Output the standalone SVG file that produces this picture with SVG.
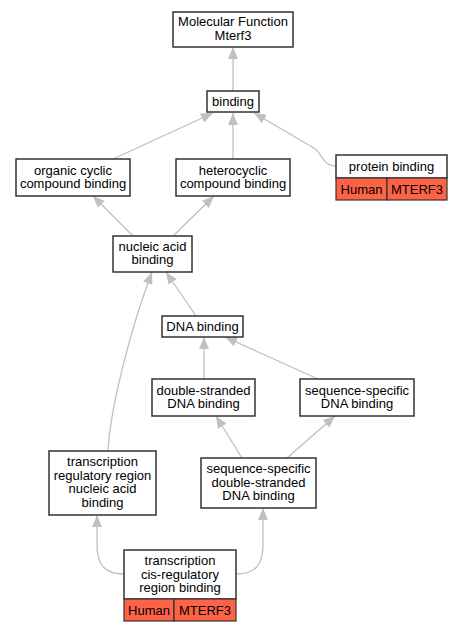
<svg xmlns="http://www.w3.org/2000/svg" width="464" height="632" viewBox="0 0 464 632">
<style>
.box{fill:#fff;stroke:#333;stroke-width:1.5}
.red{fill:#fe6347;stroke:#333;stroke-width:1.2}
text{font-family:"Liberation Sans",Arial,sans-serif;font-size:13px;fill:#000;text-anchor:middle}
.e{fill:none;stroke:#c0c0c0;stroke-width:1.3}
</style>
<defs>
<marker id="ah" viewBox="0 0 12 10" refX="12" refY="5" markerWidth="12" markerHeight="10" markerUnits="userSpaceOnUse" orient="auto">
<path d="M0,0 L12,5 L0,10 Z" fill="#c0c0c0"/>
</marker>
</defs>
<g id="edges">
<path class="e" marker-end="url(#ah)" d="M233,91 L233,47"/>
<path class="e" marker-end="url(#ah)" d="M113,159 L213,113"/>
<path class="e" marker-end="url(#ah)" d="M233,159 L233,113"/>
<path class="e" marker-end="url(#ah)" d="M336,166 C322,166 324,155 314,148 L254,113"/>
<path class="e" marker-end="url(#ah)" d="M133,236 L93,196"/>
<path class="e" marker-end="url(#ah)" d="M173,236 L214,196"/>
<path class="e" marker-end="url(#ah)" d="M196,316 L166,272"/>
<path class="e" marker-end="url(#ah)" d="M108,451 C110,410 130,330 152,272"/>
<path class="e" marker-end="url(#ah)" d="M204,379 L204,337"/>
<path class="e" marker-end="url(#ah)" d="M318,379 L225,337"/>
<path class="e" marker-end="url(#ah)" d="M242,458 L216,416"/>
<path class="e" marker-end="url(#ah)" d="M287,458 L335,416"/>
<path class="e" marker-end="url(#ah)" d="M124,574 C105,574 97,565 97,545 L97,515"/>
<path class="e" marker-end="url(#ah)" d="M236,574 C255,574 263,565 263,545 L263,508"/>
</g>
<g id="n_mf"><rect class="box" x="173" y="12" width="120" height="35"/><text x="233" y="26">Molecular Function</text><text x="233" y="40">Mterf3</text></g>
<g id="n_binding"><rect class="box" x="207" y="91" width="52" height="21"/><text x="233" y="106">binding</text></g>
<g id="n_organic"><rect class="box" x="16" y="159" width="114" height="37"/><text x="73" y="175">organic cyclic</text><text x="73" y="188">compound binding</text></g>
<g id="n_hetero"><rect class="box" x="176" y="159" width="114" height="37"/><text x="233" y="175">heterocyclic</text><text x="233" y="188">compound binding</text></g>
<g id="n_protein"><rect class="box" x="336" y="155" width="111" height="23"/><text x="391.5" y="171">protein binding</text><rect class="red" x="336" y="178" width="51" height="22"/><rect class="red" x="387" y="178" width="60" height="22"/><text x="361.5" y="194">Human</text><text x="417" y="194">MTERF3</text></g>
<g id="n_nucleic"><rect class="box" x="113" y="236" width="79" height="36"/><text x="152.5" y="251">nucleic acid</text><text x="152.5" y="264">binding</text></g>
<g id="n_dna"><rect class="box" x="162" y="316" width="81" height="21"/><text x="202.5" y="331">DNA binding</text></g>
<g id="n_ds"><rect class="box" x="152" y="379" width="103" height="37"/><text x="203.5" y="395">double-stranded</text><text x="203.5" y="408">DNA binding</text></g>
<g id="n_ss"><rect class="box" x="300" y="379" width="114" height="37"/><text x="357" y="395">sequence-specific</text><text x="357" y="408">DNA binding</text></g>
<g id="n_trr"><rect class="box" x="49" y="451" width="107" height="64"/><text x="102.5" y="466">transcription</text><text x="102.5" y="479.5">regulatory region</text><text x="102.5" y="493">nucleic acid</text><text x="102.5" y="506.5">binding</text></g>
<g id="n_ssds"><rect class="box" x="201" y="458" width="115" height="50"/><text x="258.5" y="473">sequence-specific</text><text x="258.5" y="486.5">double-stranded</text><text x="258.5" y="500">DNA binding</text></g>
<g id="n_cis"><rect class="box" x="124" y="550" width="112" height="49"/><text x="180" y="565">transcription</text><text x="180" y="578.5">cis-regulatory</text><text x="180" y="592">region binding</text><rect class="red" x="124" y="599" width="50" height="22"/><rect class="red" x="174" y="599" width="62" height="22"/><text x="149" y="614.5">Human</text><text x="205" y="614.5">MTERF3</text></g>
</svg>
